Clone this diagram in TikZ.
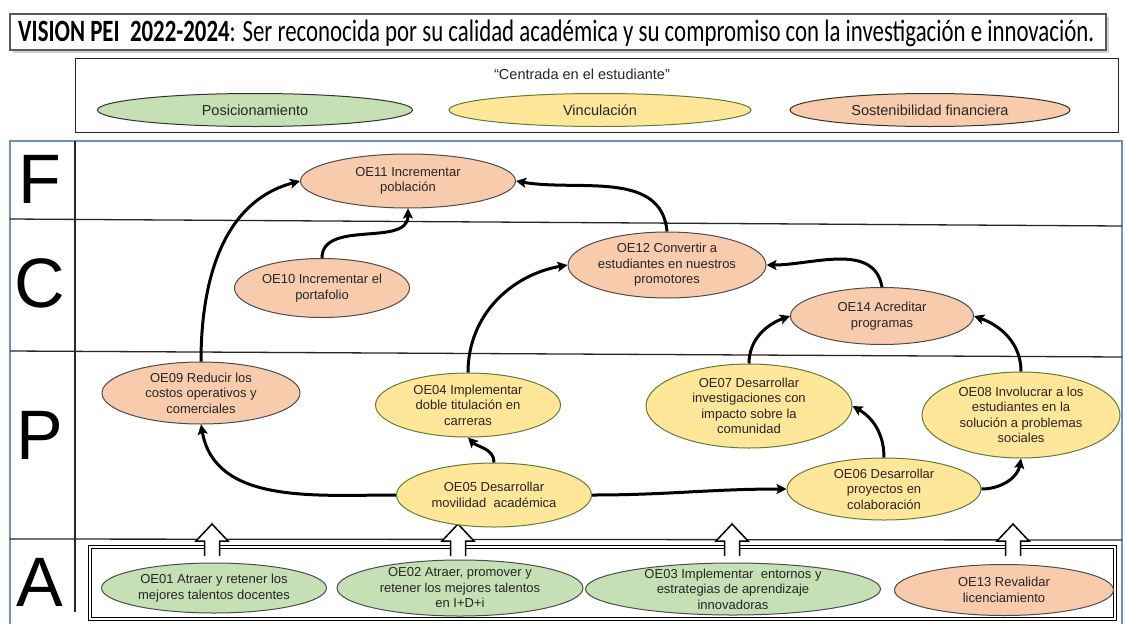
\documentclass[tikz,border=0pt]{standalone}
\usepackage{fontspec}
\setmainfont{Liberation Sans}
\newfontfamily\carlito{Carlito}
\usetikzlibrary{shapes.geometric,arrows.meta}
\definecolor{orgF}{HTML}{F8CBAD}
\definecolor{yelF}{HTML}{FFE699}
\definecolor{grnF}{HTML}{C5E0B4}
\definecolor{yelD}{HTML}{5E7F34}
\definecolor{frameB}{HTML}{6A92C4}
\newcommand\oenode[7]{%
  \node[#1, minimum width=#5pt, minimum height=#6pt] (#2) at (#3,#4) {};
  \node[txt] (#2t) at (#2) {#7};}
\begin{document}
\begin{tikzpicture}[x=1pt,y=-1pt,
  oe/.style={ellipse, draw, line width=1pt, inner sep=0pt},
  org/.style={oe, fill=orgF, draw=black!70},
  yel/.style={oe, fill=yelF, draw=yelD},
  grn/.style={oe, fill=grnF, draw=black!70},
  txt/.style={align=center, font=\fontsize{13}{15.5}\selectfont, text=black!85, inner sep=0pt},
  legtxt/.style={font=\fontsize{14.5}{16}\selectfont, text=black!85, inner sep=0pt},
  letter/.style={font=\fontsize{70}{70}\selectfont, inner sep=0pt},
  conn/.style={line width=3pt, -{Stealth[length=10pt,width=10pt,inset=2pt]}},
  divl/.style={line width=1.3pt, black!85},
  blockarrow/.style={draw=black, fill=white, line width=1.5pt, line join=miter}
]
\useasboundingbox (0,0) rectangle (1126,624);
% title
\fill[gray!35] (13,17) rectangle (1109,53);
\draw[gray!70!black, line width=1.5pt, fill=white] (10,14) rectangle (1106,50);
\node[anchor=west, inner sep=0pt] (title) at (18,33) {\resizebox{1076pt}{\height}{\carlito\fontsize{31}{32}\selectfont\textbf{VISION PEI\ \ 2022-2024}: Ser reconocida por su calidad académica y su compromiso con la investigación e innovación.}};
% legend
\draw[black!85, line width=1pt] (75,58) rectangle (1118,132);
\node[legtxt] (cent) at (582,74) {“Centrada en el estudiante”};
\node[oe, fill=grnF, draw=black!80, minimum width=315pt, minimum height=33pt] (pos) at (255,110) {};
\node[legtxt] (post) at (pos) {Posicionamiento};
\node[oe, fill=yelF, draw=yelD, minimum width=302pt, minimum height=33pt] (vin) at (600,110) {};
\node[legtxt] (vint) at (vin) {Vinculación};
\node[oe, fill=orgF, draw=black!80, minimum width=280pt, minimum height=33pt] (sos) at (930,110) {};
\node[legtxt] (sost) at (sos) {Sostenibilidad financiera};
% frame and lanes
\draw[frameB, line width=2pt] (10,624) -- (10,141) -- (1122,141) -- (1122,624);
\draw[divl] (10,219) -- (1122,226);
\draw[divl] (10,351) -- (1122,357);
\draw[divl] (10,539) -- (1122,540);
\draw[divl] (75,141) -- (75,612);
\node[letter] (lF) at (40,179) {F};
\node[letter] (lC) at (40,283) {C};
\node[letter] (lP) at (40,435) {P};
\node[letter] (lA) at (40,582) {A};
% A box
\draw[black, line width=1pt, double, double distance=1.6pt] (90,547) rectangle (1115,619);
\foreach \cx in {212,458,732,1013}{
  \draw[blockarrow] (\cx-7.5,556) -- (\cx-7.5,541) -- (\cx-16,541) -- (\cx,524) -- (\cx+16,541) -- (\cx+7.5,541) -- (\cx+7.5,556);
}
% nodes
\oenode{org}{OE11}{408}{181}{215}{54}{OE11 Incrementar\\población}
\oenode{org}{OE10}{322}{288}{175}{59}{OE10 Incrementar el\\portafolio}
\oenode{org}{OE12}{667}{265}{198}{66}{OE12 Convertir a\\estudiantes en nuestros\\promotores}
\oenode{org}{OE14}{882}{316}{183}{57}{OE14 Acreditar\\programas}
\oenode{org}{OE09}{201}{393}{198}{62}{OE09 Reducir los\\costos operativos y\\comerciales}
\oenode{yel}{OE04}{468}{405}{185}{64}{OE04 Implementar\\doble titulación en\\carreras}
\oenode{yel}{OE07}{749}{406}{206}{84}{OE07 Desarrollar\\investigaciones con\\impacto sobre la\\comunidad}
\oenode{yel}{OE08}{1021}{415}{198}{86}{OE08 Involucrar a los\\estudiantes en la\\solución a problemas\\sociales}
\oenode{yel}{OE05}{494}{495}{195}{64}{OE05 Desarrollar\\movilidad\ \ académica}
\oenode{yel}{OE06}{884}{489}{194}{62}{OE06 Desarrollar\\proyectos en\\colaboración}
\oenode{grn}{OE01}{214}{588}{225}{50}{OE01 Atraer y retener los\\mejores talentos docentes}
\oenode{grn}{OE02}{460}{588}{246}{56}{OE02 Atraer, promover y\\retener los mejores talentos\\en I+D+i}
\oenode{grn}{OE03}{733}{589}{295}{52}{OE03 Implementar\ \ entornos y\\estrategias de aprendizaje\\innovadoras}
\oenode{org}{OE13}{1004}{590}{219}{51}{OE13 Revalidar\\licenciamiento}
% connectors
\draw[conn] (OE09.north) to[out=90,in=195] (OE11.west);
\draw[conn] (OE10.north) to[out=90,in=-90] (OE11.south);
\draw[conn] (OE12.north) to[out=95,in=-10] (OE11.east);
\draw[conn] (OE04.north) to[out=90,in=190] (OE12.west);
\draw[conn] (OE14.north) to[out=100,in=0] (OE12.east);
\draw[conn] (OE07.north) to[out=90,in=200] (OE14.west);
\draw[conn] (OE08.north) to[out=90,in=-20] (OE14.east);
\draw[conn] (OE05.west) to[out=180,in=-80] (OE09.south);
\draw[conn] (OE05.north) to[out=90,in=-45] (OE04.south);
\draw[conn] (OE05.east) to[out=0,in=180] (OE06.west);
\draw[conn] (OE06.north) to[out=90,in=-30] (OE07.east);
\draw[conn] (OE06.east) to[out=0,in=-100] (OE08.south);
\end{tikzpicture}
\end{document}
